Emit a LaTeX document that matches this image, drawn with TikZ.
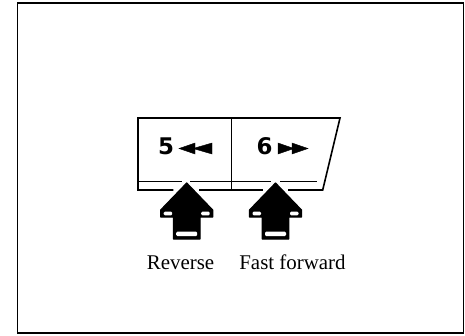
\documentclass[tikz,border=0pt]{standalone}
\usepackage{fontspec}
\setmainfont{Liberation Serif}
\newfontfamily\keyfont{DejaVu Sans}
\usetikzlibrary{positioning, calc}

\begin{document}
\begin{tikzpicture}[
    x=1bp, y=-1bp,
    frame/.style={draw=black, line width=1.2bp},
    keyline/.style={draw=black, line width=1.6bp, line join=miter},
    subline/.style={draw=black, line width=1.2bp},
    keynum/.style={font=\keyfont\bfseries\fontsize{23}{23}\selectfont, inner sep=0pt},
    marker/.style={fill=black},
    push/.style={fill=black, draw=black, line width=1.2bp, line join=round},
    shine/.style={fill=white, rounded corners=1.2bp},
    caption/.style={font=\fontsize{21}{21}\selectfont, inner sep=0pt, anchor=base}
]
\useasboundingbox (0,0) rectangle (465,335);

% Outer frame
\draw[frame] (17.3,3) rectangle (463.3,333);

% Key strip
\coordinate (k_tl) at (138,118);
\coordinate (k_tr) at (340,118);
\coordinate (k_br) at (322.7,190);
\coordinate (k_bl) at (138,190);
\draw[keyline] (173.3,190) -- (k_bl) -- (k_tl) -- (k_tr) -- (k_br) -- (288,190);
\draw[keyline] (199.3,190) -- (263,190);
\draw[keyline] (231.5,118) -- (231.5,190);

% Lower edge of the keys
\draw[subline] (138,181.5) -- (181.7,181.5);
\draw[subline] (190,181.5) -- (271,181.5);
\draw[subline] (280,181.5) -- (316.7,181.5);

% Key 5
\node[keynum] (n_five) at (166,146.5) {5};
\draw[marker] (179,148.5) -- (195,143) -- (195,154) -- cycle;
\draw[marker] (193,148.5) -- (212,143) -- (212,154) -- cycle;

% Key 6
\node[keynum] (n_six) at (264.5,146.5) {6};
\draw[marker] (294,148.5) -- (278,143) -- (278,154) -- cycle;
\draw[marker] (308,148.5) -- (292,143) -- (292,154) -- cycle;

% Push arrows
\begin{scope}[shift={(186.7,183)}]
    \draw[push] (0,0) -- (26,27) -- (26,34) -- (13.3,34) -- (13.3,56) -- (-13.3,56) -- (-13.3,34) -- (-26,34) -- (-26,27) -- cycle;
    \fill[shine] (-23,28.7) rectangle (-14.5,32.3);
    \fill[shine] (14.5,28.7) rectangle (23,32.3);
    \fill[shine] (-10.5,48.7) rectangle (10.5,53);
\end{scope}
\begin{scope}[shift={(275.5,183)}]
    \draw[push] (0,0) -- (26,27) -- (26,34) -- (13.3,34) -- (13.3,56) -- (-13.3,56) -- (-13.3,34) -- (-26,34) -- (-26,27) -- cycle;
    \fill[shine] (-23,28.7) rectangle (-14.5,32.3);
    \fill[shine] (14.5,28.7) rectangle (23,32.3);
    \fill[shine] (-10.5,48.7) rectangle (10.5,53);
\end{scope}

% Captions
\node[caption] (rev) at (180.5,269.3) {Reverse};
\node[caption] (ffwd) at (292.5,269.3) {Fast forward};
\end{tikzpicture}
\end{document}
